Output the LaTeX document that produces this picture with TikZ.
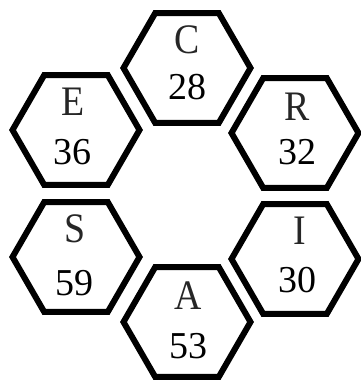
\documentclass[tikz,border=0pt]{standalone}
\usepackage{fontspec}
\setmainfont{Liberation Serif}
\usetikzlibrary{shapes.geometric}
\tikzset{
  hexa/.style={draw=black, line width=6pt, regular polygon, regular polygon sides=6,
    minimum size=127pt, inner sep=0pt, outer sep=0pt},
  lbl/.style={inner sep=0pt, text=black!85, font=\fontsize{42}{42}\selectfont},
  num/.style={inner sep=0pt, text=black, font=\fontsize{38}{38}\selectfont}
}
\begin{document}
\begin{tikzpicture}[x=1pt,y=-1pt]
\useasboundingbox (0,0) rectangle (361,384);
\node[hexa] (C) at (187,68) {};
\node[hexa] (E) at (76,130) {};
\node[hexa] (R) at (295,133) {};
\node[hexa] (S) at (76,257) {};
\node[hexa] (I) at (295,259) {};
\node[hexa] (A) at (187,322) {};
\node[lbl, xscale=0.9] (Cl) at (187,40) {C};
\node[num] (Cn) at (187,87) {28};
\node[lbl, xscale=0.9] (El) at (73,102) {E};
\node[num] (En) at (72,152) {36};
\node[lbl, xscale=0.9] (Rl) at (297,107) {R};
\node[num] (Rn) at (298,152) {32};
\node[lbl, xscale=0.9] (Sl) at (75,229) {S};
\node[num] (Sn) at (75,283) {59};
\node[lbl, xscale=0.9] (Il) at (300,231) {I};
\node[num] (In) at (297,280) {30};
\node[lbl, xscale=0.9] (Al) at (188,296) {A};
\node[num] (An) at (188,346) {53};
\end{tikzpicture}
\end{document}
